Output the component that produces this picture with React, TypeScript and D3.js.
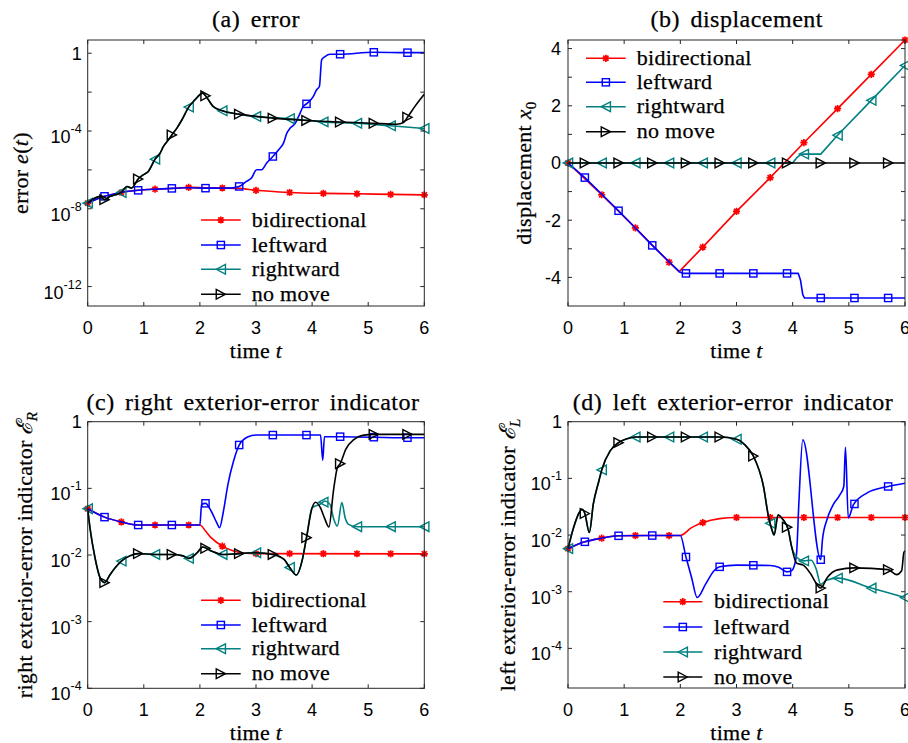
import React from 'react';
import * as d3 from 'd3';

type Pt = [number, number];

// ---------- shared axis / marker data ----------
const TIME_TICKS = [0, 1, 2, 3, 4, 5, 6];
const MARKER_TIMES_EVEN = [0, 0.6, 1.2, 1.8, 2.4, 3.0, 3.6, 4.2, 4.8, 5.4, 6.0];
const MARKER_TIMES_ODD = [0.3, 0.9, 1.5, 2.1, 2.7, 3.3, 3.9, 4.5, 5.1, 5.7];
const SERIES_NAMES = ['bidirectional', 'leftward', 'rightward', 'no move'];
const SERIES_COLORS = ['#ff0000', '#0000ff', '#008080', '#000000'];
const SERIES_MARKERS = ['star', 'square', 'triangleLeft', 'triangleRight'];

// ---------- (a) error e(t) ----------
const A_Y_TICKS = [1, 1e-2, 1e-4, 1e-6, 1e-8, 1e-10, 1e-12];
const A_Y_LABELS = [1, 1e-4, 1e-8, 1e-12];
const errBidirectional: Pt[] = [[0, 1.95e-8], [0.3, 4.37e-8], [0.6, 6.9e-8], [0.9, 8.9e-8], [1.2, 1.02e-7], [1.5, 1.12e-7], [1.8, 1.26e-7], [2.1, 1.2e-7], [2.4, 1.17e-7], [2.7, 1.12e-7], [3.0, 8.9e-8], [3.6, 6.9e-8], [4.2, 6.2e-8], [4.8, 5.9e-8], [5.4, 5.5e-8], [6.0, 5.2e-8]];
const errLeftward: Pt[] = [[0, 1.95e-8], [0.3, 4.37e-8], [0.6, 6.9e-8], [0.9, 8.9e-8], [1.2, 1.02e-7], [1.5, 1.12e-7], [1.8, 1.2e-7], [2.1, 1.15e-7], [2.5, 1.15e-7], [2.7, 1.41e-7], [2.83, 2.57e-7], [2.92, 3.8e-7], [3.01, 1.02e-6], [3.1, 1.02e-6], [3.19, 2.24e-6], [3.3, 4.9e-6], [3.4, 1.07e-5], [3.49, 2.4e-5], [3.55, 7.8e-5], [3.61, 1.41e-4], [3.7, 2.5e-4], [3.76, 5.6e-4], [3.84, 1.8e-3], [3.9, 2.5e-3], [4.02, 5.9e-3], [4.08, 1.32e-2], [4.13, 1.95e-2], [4.17, 0.457], [4.23, 0.676], [4.32, 0.89], [4.5, 0.89], [5.09, 1.12], [5.7, 1.07], [6.0, 1.07]];
const errSharedEarly: Pt[] = [[0, 1.95e-8], [0.13, 3.55e-8], [0.22, 4.37e-8], [0.3, 2.95e-8], [0.4, 4.37e-8], [0.49, 5.2e-8], [0.6, 6.9e-8], [0.7, 1.41e-7], [0.78, 1.17e-7], [0.9, 3.4e-7], [0.99, 5.6e-7], [1.08, 8.3e-7], [1.2, 3.55e-6], [1.29, 7.2e-6], [1.35, 1.62e-5], [1.44, 3.55e-5], [1.5, 6.3e-5], [1.59, 1.41e-4], [1.68, 3.8e-4], [1.8, 1.7e-3], [1.91, 3.98e-3], [2.05, 8.9e-3], [2.1, 6.5e-3], [2.24, 1.8e-3], [2.4, 1.1e-3]];
const errRightward: Pt[] = [...errSharedEarly, [3.0, 5.6e-4], [3.6, 4.3e-4], [4.2, 2.95e-4], [4.8, 2.5e-4], [5.4, 1.86e-4], [6.0, 1.35e-4]];
const errNoMove: Pt[] = [...errSharedEarly, [2.7, 7.4e-4], [3.3, 4.6e-4], [3.9, 3.5e-4], [4.5, 2.9e-4], [5.1, 2.5e-4], [5.51, 2.24e-4], [5.63, 2.75e-4], [5.7, 5.1e-4], [5.83, 1.8e-3], [6.0, 7.8e-3]];

// ---------- (b) displacement x0 ----------
const B_Y_TICKS = [-4, -3, -2, -1, 0, 1, 2, 3, 4];
const B_Y_LABELS = [-4, -2, 0, 2, 4];
const dispBidirectional: Pt[] = [[0, 0], [0.6, -1.11], [1.2, -2.27], [1.8, -3.47], [1.98, -3.8], [2.4, -2.94], [3.0, -1.69], [3.6, -0.51], [4.2, 0.71], [4.8, 1.9], [5.4, 3.1], [6.0, 4.3]];
const dispLeftward: Pt[] = [[0, 0], [0.3, -0.51], [0.9, -1.67], [1.5, -2.88], [1.98, -3.8], [2.05, -3.86], [4.1, -3.86], [4.14, -4.1], [4.18, -4.6], [4.21, -4.72], [6.0, -4.72]];
const dispRightward: Pt[] = [[0, 0], [4.0, 0], [4.08, 0.2], [4.15, 0.31], [4.5, 0.31], [4.8, 0.97], [5.4, 2.19], [6.0, 3.41]];
const dispNoMove: Pt[] = [[0, 0], [6.0, 0]];

// ---------- (c) right exterior-error indicator ----------
const CD_Y_TICKS = [1, 1e-1, 1e-2, 1e-3, 1e-4];
const rightBidirectional: Pt[] = [[0, 4.95e-2], [0.3, 3.7e-2], [0.6, 3.13e-2], [0.9, 2.82e-2], [2.0, 2.82e-2], [2.1, 2.29e-2], [2.2, 1.82e-2], [2.4, 1.36e-2], [2.6, 1.15e-2], [2.8, 1.07e-2], [3.0, 1.05e-2], [6.0, 1.04e-2]];
const rightLeftward: Pt[] = [[0, 4.95e-2], [0.3, 3.7e-2], [0.6, 3.13e-2], [0.9, 2.82e-2], [2.0, 2.82e-2], [2.03, 5.75e-2], [2.1, 5.96e-2], [2.2, 4.57e-2], [2.3, 3.05e-2], [2.35, 2.57e-2], [2.42, 4.57e-2], [2.5, 0.115], [2.6, 0.257], [2.7, 0.447], [2.85, 0.589], [3.0, 0.63], [4.15, 0.63], [4.19, 0.263], [4.22, 0.596], [4.5, 0.596], [5.7, 0.575], [6.0, 0.575]];
const rightSharedEarly: Pt[] = [[0, 4.95e-2], [0.04, 2.57e-2], [0.13, 9.1e-3], [0.22, 4.57e-3], [0.3, 3.85e-3], [0.4, 5.1e-3], [0.49, 6.45e-3], [0.6, 8.1e-3], [0.75, 9.7e-3], [0.9, 1.05e-2], [1.2, 1.02e-2], [1.5, 1.02e-2], [1.7, 9.7e-3], [1.8, 8.9e-3], [1.95, 1.08e-2], [2.05, 1.32e-2], [2.2, 1.15e-2], [2.4, 1.02e-2], [2.7, 1.05e-2], [3.0, 1.08e-2], [3.3, 1.02e-2], [3.5, 8.6e-3], [3.6, 6.5e-3], [3.72, 5.0e-3], [3.82, 8.1e-3], [3.9, 1.82e-2], [4.0, 5.1e-2]];
const rightRightward: Pt[] = [...rightSharedEarly, [4.14, 5.75e-2], [4.23, 6.45e-2], [4.32, 5.75e-2], [4.38, 3.6e-2], [4.45, 2.72e-2], [4.53, 6.1e-2], [4.59, 3.6e-2], [4.65, 2.88e-2], [4.8, 2.66e-2], [6.0, 2.66e-2]];
const rightNoMove: Pt[] = [...rightSharedEarly, [4.06, 6.2e-2], [4.15, 5.1e-2], [4.22, 3.6e-2], [4.3, 2.63e-2], [4.38, 9.1e-2], [4.45, 0.204], [4.5, 0.234], [4.6, 0.385], [4.75, 0.543], [4.9, 0.624], [5.1, 0.646], [6.0, 0.646]];

// ---------- (d) left exterior-error indicator ----------
const leftBidirectional: Pt[] = [[0, 5.75e-3], [0.3, 7.6e-3], [0.6, 8.8e-3], [0.9, 9.7e-3], [1.2, 9.8e-3], [2.0, 9.8e-3], [2.2, 1.35e-2], [2.4, 1.66e-2], [2.7, 1.95e-2], [3.0, 2.04e-2], [6.0, 2.04e-2]];
const leftLeftward: Pt[] = [[0, 5.75e-3], [0.3, 7.6e-3], [0.6, 8.8e-3], [0.9, 9.7e-3], [1.5, 9.8e-3], [2.0, 9.8e-3], [2.1, 4.1e-3], [2.2, 1.78e-3], [2.3, 7.9e-4], [2.45, 1.36e-3], [2.6, 2.34e-3], [2.7, 2.75e-3], [3.0, 2.95e-3], [3.6, 2.9e-3], [3.75, 2.7e-3], [3.9, 2.24e-3], [3.98, 2.34e-3], [4.02, 2.7e-3], [4.07, 4.8e-3], [4.11, 3.6e-2], [4.18, 0.479], [4.5, 3.67e-3], [4.53, 8.2e-3], [4.61, 1.86e-2], [4.72, 3.4e-2], [4.84, 5.1e-2], [4.91, 7.2e-2], [4.94, 0.355], [4.99, 2.0e-2], [5.08, 3.4e-2], [5.32, 5.5e-2], [5.7, 7.2e-2], [6.0, 8.2e-2]];
const leftSharedEarly: Pt[] = [[0, 5.75e-3], [0.1, 1.36e-2], [0.2, 2.5e-2], [0.25, 2.85e-2], [0.3, 2.4e-2], [0.38, 1.11e-2], [0.45, 3.5e-2], [0.55, 9.0e-2], [0.6, 0.141], [0.75, 0.305], [0.9, 0.427], [1.05, 0.5], [1.2, 0.537], [2.7, 0.537], [3.0, 0.49], [3.15, 0.39], [3.3, 0.248], [3.48, 7.2e-2], [3.57, 2.1e-2], [3.63, 1.24e-2], [3.67, 1.0e-2], [3.74, 2.26e-2], [3.83, 1.86e-2], [3.92, 1.26e-2], [3.98, 6.3e-3]];
const leftRightward: Pt[] = [...leftSharedEarly, [4.04, 4.47e-3], [4.2, 3.5e-3], [4.33, 3.6e-3], [4.42, 2.5e-3], [4.5, 1.35e-3], [4.6, 1.6e-3], [4.8, 1.74e-3], [5.4, 1.16e-3], [6.0, 7.9e-4]];
const leftNoMove: Pt[] = [...leftSharedEarly, [4.07, 3.2e-3], [4.19, 2.95e-3], [4.31, 2.14e-3], [4.5, 1.16e-3], [4.62, 1.8e-3], [4.8, 2.43e-3], [5.1, 2.63e-3], [5.7, 2.45e-3], [5.85, 2.0e-3], [5.94, 2.34e-3], [5.98, 4.9e-3], [6.0, 5.25e-3]];

const SANS = '"Liberation Sans", Arimo, Arial, Helvetica, sans-serif';
const SERIF = '"Liberation Serif", Tinos, "Times New Roman", serif';
const AXIS_COLOR = '#262626';

function Marker({ kind, x, y, color }: { kind: string; x: number; y: number; color: string }) {
  if (kind === 'star') {
    const r = 3.6, q = r * 0.72;
    return (
      <path d={`M${x - r},${y}H${x + r}M${x},${y - r}V${y + r}M${x - q},${y - q}L${x + q},${y + q}M${x - q},${y + q}L${x + q},${y - q}`}
        stroke={color} strokeWidth={1.7} fill="none" />
    );
  }
  if (kind === 'square') {
    return <rect x={x - 3.6} y={y - 3.6} width={7.2} height={7.2} stroke={color} strokeWidth={1.4} fill="none" />;
  }
  if (kind === 'triangleLeft') {
    return <path d={`M${x - 4.6},${y}L${x + 4.6},${y - 4.8}L${x + 4.6},${y + 4.8}Z`} stroke={color} strokeWidth={1.4} fill="none" strokeLinejoin="miter" />;
  }
  return <path d={`M${x + 4.6},${y}L${x - 4.6},${y - 4.8}L${x - 4.6},${y + 4.8}Z`} stroke={color} strokeWidth={1.4} fill="none" strokeLinejoin="miter" />;
}

function LogLabel({ x, y, v }: { x: number; y: number; v: number }) {
  if (v === 1) {
    return <text x={x} y={y + 6.5} textAnchor="end" style={{ fontFamily: SANS }} fontSize={18} fill="#000">1</text>;
  }
  const e = Math.round(Math.log10(v));
  return (
    <text x={x} y={y + 12} textAnchor="end" style={{ fontFamily: SANS }} fontSize={18} fill="#000">
      10<tspan dy={-10} fontSize={12.5}>{String(e)}</tspan>
    </text>
  );
}

type PanelProps = {
  left: number; right: number; top: number; bottom: number;
  log: boolean; yDomain: [number, number]; yTicks: number[]; yLabels: number[];
  series: Pt[][]; linear?: boolean;
  title: string; titleX: number; titleY: number;
  ylabel: React.ReactNode; ylabelX: number;
  legend: { x1: number; x2: number; tx: number; ys: number[] };
};

function Panel(p: PanelProps) {
  const x = d3.scaleLinear().domain([0, 6]).range([p.left, p.right]);
  const y: any = p.log
    ? d3.scaleLog().domain(p.yDomain).range([p.bottom, p.top])
    : d3.scaleLinear().domain(p.yDomain).range([p.bottom, p.top]);
  const line = d3.line<Pt>().x(d => x(d[0])).y(d => y(d[1]))
    .curve(p.linear ? d3.curveLinear : d3.curveMonotoneX);
  const tick = 4;
  const markerY = (pts: Pt[], t: number) => {
    for (let i = 0; i < pts.length - 1; i++) {
      const a = pts[i], b = pts[i + 1];
      if (t >= a[0] && t <= b[0]) {
        const f = b[0] === a[0] ? 0 : (t - a[0]) / (b[0] - a[0]);
        return y(a[1]) + f * (y(b[1]) - y(a[1]));
      }
    }
    return y(pts[pts.length - 1][1]);
  };
  const cy = (p.top + p.bottom) / 2;
  const serifStyle = { fontFamily: SERIF };
  const thick = { stroke: '#000', strokeWidth: 0.25 };
  return (
    <g>
      {p.series.map((pts, si) => {
        const times = si % 2 === 0 ? MARKER_TIMES_EVEN : MARKER_TIMES_ODD;
        return (
          <g key={si}>
            <path d={line(pts) || ''} stroke={SERIES_COLORS[si]} strokeWidth={1.6} fill="none" strokeLinejoin="round" />
            {times.map((t, k) => (
              <Marker key={k} kind={SERIES_MARKERS[si]} x={x(t)} y={markerY(pts, t)} color={SERIES_COLORS[si]} />
            ))}
          </g>
        );
      })}
      <rect x={p.left} y={p.top} width={p.right - p.left} height={p.bottom - p.top} fill="none" stroke={AXIS_COLOR} strokeWidth={1} />
      {TIME_TICKS.map(t => (
        <g key={'xt' + t}>
          <line x1={x(t)} x2={x(t)} y1={p.bottom} y2={p.bottom - tick} stroke={AXIS_COLOR} />
          <line x1={x(t)} x2={x(t)} y1={p.top} y2={p.top + tick} stroke={AXIS_COLOR} />
          <text x={x(t)} y={p.bottom + 27.5} textAnchor="middle" style={{ fontFamily: SANS }} fontSize={18} fill="#000">{String(t)}</text>
        </g>
      ))}
      {p.yTicks.map(v => (
        <g key={'yt' + v}>
          <line x1={p.left} x2={p.left + tick} y1={y(v)} y2={y(v)} stroke={AXIS_COLOR} />
          <line x1={p.right} x2={p.right - tick} y1={y(v)} y2={y(v)} stroke={AXIS_COLOR} />
        </g>
      ))}
      {p.yLabels.map(v => p.log
        ? <LogLabel key={'yl' + v} x={p.left - 6} y={y(v)} v={v} />
        : <text key={'yl' + v} x={p.left - 7} y={y(v) + 6.5} textAnchor="end" style={{ fontFamily: SANS }} fontSize={18} fill="#000">{String(v)}</text>
      )}
      <text x={p.titleX} y={p.titleY} textAnchor="middle" style={serifStyle} {...thick} fontSize={24} letterSpacing={0.5} wordSpacing={4} fill="#000">{p.title}</text>
      <text x={(p.left + p.right) / 2} y={p.bottom + 52} textAnchor="middle" style={serifStyle} {...thick} fontSize={22} letterSpacing={0.3} fill="#000">
        time <tspan fontStyle="italic">t</tspan>
      </text>
      <text transform={`translate(${p.ylabelX},${cy}) rotate(-90)`} textAnchor="middle" style={serifStyle} {...thick} fontSize={22} letterSpacing={0.3} fill="#000">
        {p.ylabel}
      </text>
      {SERIES_NAMES.map((name, si) => {
        const ly = p.legend.ys[si];
        return (
          <g key={'lg' + si}>
            <line x1={p.legend.x1} x2={p.legend.x2} y1={ly} y2={ly} stroke={SERIES_COLORS[si]} strokeWidth={1.6} />
            <Marker kind={SERIES_MARKERS[si]} x={(p.legend.x1 + p.legend.x2) / 2} y={ly} color={SERIES_COLORS[si]} />
            <text x={p.legend.tx} y={ly + 6.5} style={serifStyle} {...thick} fontSize={22} letterSpacing={0.3} fill="#000">{name}</text>
          </g>
        );
      })}
    </g>
  );
}

export default function App() {
  return (
    <svg width={908} height={743} viewBox="0 0 908 743" style={{ position: 'absolute', left: 0, top: 0, background: '#fff' }}>
      <rect x={0} y={0} width={908} height={743} fill="#fff" />
      <Panel
        left={87.7} right={424.3} top={40} bottom={306}
        log yDomain={[1e-13, 4.8]} yTicks={A_Y_TICKS} yLabels={A_Y_LABELS}
        series={[errBidirectional, errLeftward, errRightward, errNoMove]}
        title="(a) error" titleX={256} titleY={27}
        ylabel={<>error <tspan fontStyle="italic">e</tspan>(<tspan fontStyle="italic">t</tspan>)</>} ylabelX={27.5}
        legend={{ x1: 201, x2: 240.7, tx: 251.7, ys: [220, 245, 269.3, 294.3] }}
      />
      <Panel
        left={568} right={905} top={40} bottom={306}
        log={false} yDomain={[-5, 4.3]} yTicks={B_Y_TICKS} yLabels={B_Y_LABELS} linear
        series={[dispBidirectional, dispLeftward, dispRightward, dispNoMove]}
        title="(b) displacement" titleX={736.7} titleY={27}
        ylabel={<>displacement <tspan fontStyle="italic">x</tspan><tspan dy={5} fontSize={15}>0</tspan></>} ylabelX={531.3}
        legend={{ x1: 586, x2: 625.7, tx: 636.7, ys: [58.3, 82.3, 106.7, 131.7] }}
      />
      <Panel
        left={87.7} right={424.3} top={421.7} bottom={688.3}
        log yDomain={[1e-4, 1]} yTicks={CD_Y_TICKS} yLabels={CD_Y_TICKS}
        series={[rightBidirectional, rightLeftward, rightRightward, rightNoMove]}
        title="(c) right exterior-error indicator" titleX={253} titleY={410}
        ylabel={<>right exterior-error indicator <tspan fontStyle="italic">ℰ</tspan><tspan dy={5} fontSize={15} fontStyle="italic">R</tspan></>} ylabelX={31.5}
        legend={{ x1: 201, x2: 240.7, tx: 251.7, ys: [600.3, 625, 648.7, 673.7] }}
      />
      <Panel
        left={568} right={905} top={421.7} bottom={688}
        log yDomain={[2e-5, 1]} yTicks={CD_Y_TICKS} yLabels={CD_Y_TICKS}
        series={[leftBidirectional, leftLeftward, leftRightward, leftNoMove]}
        title="(d) left exterior-error indicator" titleX={733} titleY={410}
        ylabel={<>left exterior-error indicator <tspan fontStyle="italic">ℰ</tspan><tspan dy={5} fontSize={15} fontStyle="italic">L</tspan></>} ylabelX={515}
        legend={{ x1: 663.3, x2: 702.3, tx: 714, ys: [601.7, 627, 652, 677] }}
      />
    </svg>
  );
}
